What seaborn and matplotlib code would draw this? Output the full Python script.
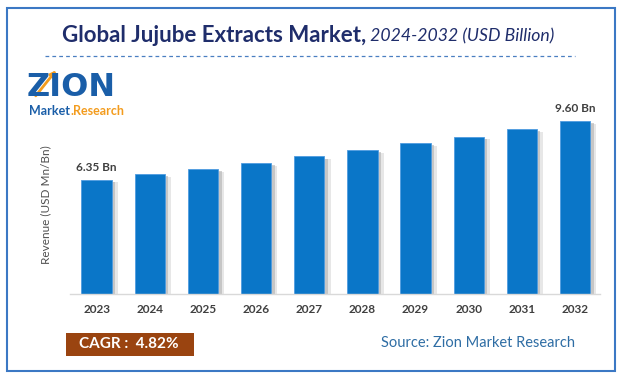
import matplotlib
matplotlib.use("Agg")
import matplotlib.pyplot as plt
import matplotlib.patheffects as pe
from matplotlib.patches import Rectangle, FancyArrowPatch
import seaborn as sns
import pandas as pd

years = ["2023", "2024", "2025", "2026", "2027", "2028", "2029", "2030", "2031", "2032"]
revenue = [6.35, 6.66, 6.93, 7.27, 7.63, 7.97, 8.37, 8.73, 9.16, 9.60]
label_first = "6.35 Bn"
label_last = "9.60 Bn"
title_main = "Global Jujube Extracts Market,"
title_sub = " 2024-2032 (USD Billion)"
ylabel = "Revenue (USD Mn/Bn)"
cagr_text = "CAGR :  4.82%"
source_text = "Source: Zion Market Research"

sns.set_theme(style="white")
plt.rcParams['font.family'] = ['Lato', 'DejaVu Sans']

W, H = 622, 380
fig = plt.figure(figsize=(W / 100, H / 100), dpi=100)

def fx(px):
    return px / W

def fy(py):
    return 1 - py / H

ax = fig.add_axes([fx(70), fy(294), fx(600) - fx(70), fy(110) - fy(294)])
df = pd.DataFrame({"year": years, "revenue": revenue})
sns.barplot(data=df, x="year", y="revenue", color="#0a76c8", width=0.57,
            saturation=1, ax=ax)
for p in ax.patches:
    p.set_edgecolor("#4f9be0")
    p.set_linewidth(0.6)
    p.set_path_effects([pe.SimplePatchShadow(offset=(2.5, -1.5), shadow_rgbFace="#8a8a8a", alpha=0.4),
                        pe.SimplePatchShadow(offset=(4.5, -2), shadow_rgbFace="#b0b0b0", alpha=0.3),
                        pe.Normal()])
ax.set_xlim(-0.5, 9.47)
ax.set_ylim(0, 10.21)
ax.set_yticks([])
ax.set_xlabel("")
ax.set_ylabel("")
for s in ["top", "right", "left"]:
    ax.spines[s].set_visible(False)
ax.spines["bottom"].set_color("#d9d9d9")
ax.spines["bottom"].set_linewidth(1)
ax.tick_params(axis="x", length=0, pad=7, labelsize=8.5, labelcolor="#404040")
for t in ax.get_xticklabels():
    t.set_fontweight("bold")

ax.annotate(label_first, (0, revenue[0]), xytext=(0, 5), textcoords="offset points",
            ha="center", va="bottom", fontsize=8.5, fontweight="bold", color="#404040")
ax.annotate(label_last, (9, revenue[-1]), xytext=(0, 5), textcoords="offset points",
            ha="center", va="bottom", fontsize=8.5, fontweight="bold", color="#404040")

fig.text(fx(46), fy(205), ylabel, rotation=90, ha="center", va="center",
         fontsize=8.5, color="#505050")

# title
t1 = fig.text(fx(62), fy(36), title_main, ha="left", va="center", fontsize=16,
              fontweight="bold", color="#1f2d6b")
fig.canvas.draw()
bb = t1.get_window_extent()
fig.text(bb.x1 / W, fy(36), title_sub, ha="left", va="center", fontsize=12.7,
         style="italic", color="#1f2d6b")

# dashed line
fig.add_artist(plt.Line2D([fx(45), fx(575)], [fy(56), fy(56)], transform=fig.transFigure,
                          color="#4a7fc1", lw=0.9, ls=(0, (3, 2.5))))

# logo
fig.text(fx(27), fy(87), "ZION", ha="left", va="center", fontsize=23, fontweight="bold",
         color="#1a5ea8", family=["DejaVu Sans"])
fig.add_artist(FancyArrowPatch((fx(34), fy(98)), (fx(58), fy(68)), transform=fig.transFigure,
                               arrowstyle="-|>", mutation_scale=8, color="#f39c1e", lw=2))
m1 = fig.text(fx(29), fy(111), "Market", ha="left", va="center", fontsize=9, fontweight="bold",
              color="#1a5ea8")
fig.canvas.draw()
mb = m1.get_window_extent()
fig.text(mb.x1 / W, fy(111), ".Research", ha="left", va="center", fontsize=9, fontweight="bold",
         color="#f39c1e")

# CAGR box
fig.add_artist(Rectangle((fx(66), fy(356)), fx(194) - fx(66), fy(333) - fy(356),
                         transform=fig.transFigure, facecolor="#9a4410", edgecolor="none"))
fig.text(fx(79), fy(344.5), cagr_text, ha="left", va="center", fontsize=11,
         fontweight="bold", color="white")
fig.text(fx(575), fy(343), source_text, ha="right", va="center", fontsize=10.5,
         color="#2e6da4")

# border
fig.add_artist(Rectangle((fx(7), fy(371)), fx(615) - fx(7), fy(8) - fy(371),
                         transform=fig.transFigure, facecolor="none", edgecolor="#3b78c4", lw=1.5))

fig.savefig("out.png", dpi=100)
